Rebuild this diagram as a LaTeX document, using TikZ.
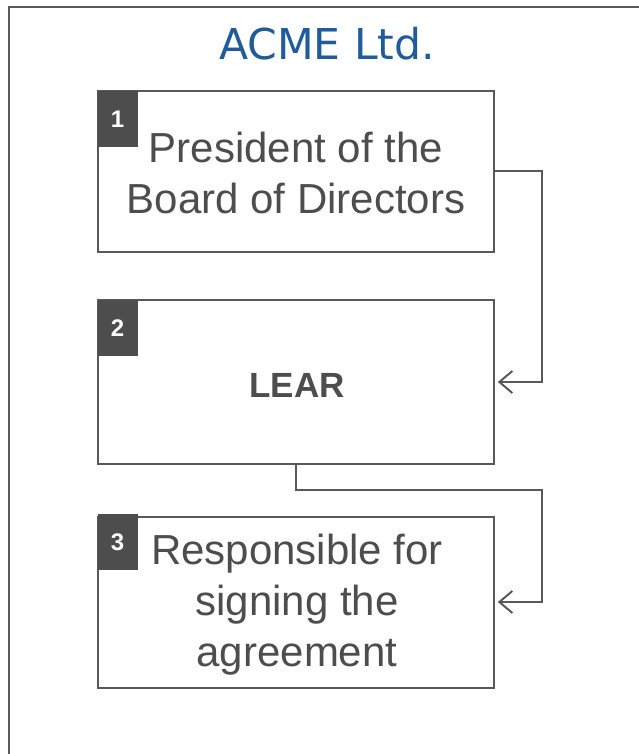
\documentclass[tikz,border=0pt]{standalone}
\usepackage{fontspec}
\setmainfont{Liberation Sans}
\newfontfamily\titlefont{DejaVu Sans}
\usetikzlibrary{arrows.meta}
\definecolor{linegray}{HTML}{595959}
\definecolor{textgray}{HTML}{4D4D4D}
\definecolor{badgegray}{HTML}{4D4D4D}
\definecolor{acmeblue}{HTML}{1F5C99}
\tikzset{
  rolebox/.style={draw=linegray, line width=1.6pt, fill=white, minimum width=396pt, inner sep=0pt},
  badge/.style={fill=badgegray, draw=none, minimum width=40pt, minimum height=56pt, inner sep=0pt},
  badgenum/.style={text=white, font=\fontsize{24}{26}\selectfont\bfseries},
  roletext/.style={text=textgray, align=center, font=\fontsize{42}{51}\selectfont},
  conn/.style={draw=linegray, line width=2pt, -{Straight Barb[length=13pt,width=22pt,line width=2pt]}, shorten >=3pt},
}
\begin{document}
\begin{tikzpicture}[x=1pt,y=-1pt]
\useasboundingbox (0,0) rectangle (639,754);
% outer frame (extends past right and bottom edges)
\draw[linegray, line width=2pt] (9,760) -- (9,7) -- (650,7);
\node[text=acmeblue, font=\titlefont\fontsize{42.5}{46}\selectfont] (title) at (327,44) {ACME Ltd.};
% box 1
\node[rolebox, minimum height=161pt] (b1) at (296,171.5) {};
\node[roletext] (t1) at (296,173) {President of the\\Board of Directors};
\node[badge, anchor=north west] (g1) at (98,91) {};
\node[badgenum] (n1) at (117.5,119) {1};
% box 2
\node[rolebox, minimum height=164pt] (b2) at (296,382) {};
\node[text=textgray, font=\fontsize{35}{40}\selectfont\bfseries] (t2) at (297,385) {LEAR};
\node[badge, anchor=north west] (g2) at (98,300) {};
\node[badgenum] (n2) at (117.5,328) {2};
% box 3
\node[rolebox, minimum height=171pt] (b3) at (296,602.5) {};
\node[roletext] (t3) at (297,605) {Responsible for\\signing the\\agreement};
\node[badge, anchor=north west] (g3) at (98,514) {};
\node[badgenum] (n3) at (117.5,542) {3};
% connectors
\coordinate (c1) at (542,382);
\coordinate (c2) at (542,490);
\coordinate (c3) at (542,602);
\draw[conn] (b1.east) -| (c1) -- (b2.east);
\draw[conn] (b2.south) |- (c2) -- (c3) -- (b3.east |- c3);
\end{tikzpicture}
\end{document}
